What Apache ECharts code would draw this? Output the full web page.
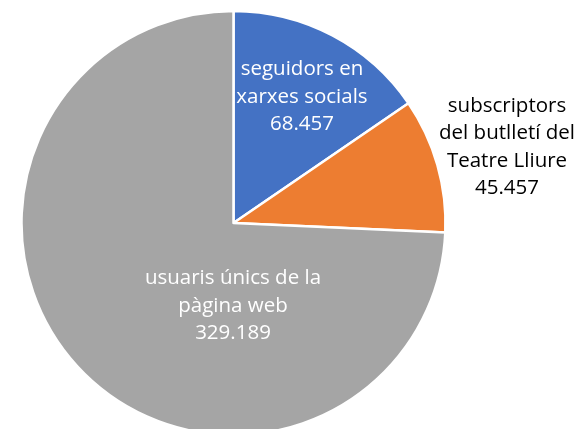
<!DOCTYPE html>
<html><head><meta charset="utf-8">
<script src="https://cdn.jsdelivr.net/npm/echarts@6/dist/echarts.min.js"></script>
<style>html,body{margin:0;padding:0;background:#fff}#c{width:579px;height:429px}</style>
</head><body><div id="c"></div>
<script>
const categories = ['seguidors en\nxarxes socials', 'subscriptors\ndel butlletí del\nTeatre Lliure', 'usuaris únics de la\npàgina web'];
const values = [68457, 45457, 329189];
const valueLabels = ['68.457', '45.457', '329.189'];
const colors = ['#4472C4', '#ED7D31', '#A5A5A5'];
const labelColors = ['#ffffff', '#000000', '#ffffff'];
const labelPos = [[302, 97], [507, 147], [233, 306]];

const chart = echarts.init(document.getElementById('c'));
chart.setOption({
  animation: false,
  series: [{
    type: 'pie',
    center: [233.5, 223],
    radius: 212,
    startAngle: 90,
    clockwise: true,
    data: categories.map((n, i) => ({
      name: n, value: values[i],
      itemStyle: { color: colors[i] },
      label: { color: labelColors[i] }
    })),
    itemStyle: { borderColor: '#ffffff', borderWidth: 2.5 },
    label: {
      show: true,
      position: 'inside',
      formatter: p => p.name + '\n' + valueLabels[p.dataIndex],
      fontFamily: 'Open Sans',
      fontSize: 20.5,
      lineHeight: 27.5,
      align: 'center'
    },
    labelLine: { show: false },
    labelLayout: p => ({ x: labelPos[p.dataIndex][0], y: labelPos[p.dataIndex][1], align: 'center', verticalAlign: 'middle' })
  }]
});
</script></body></html>
